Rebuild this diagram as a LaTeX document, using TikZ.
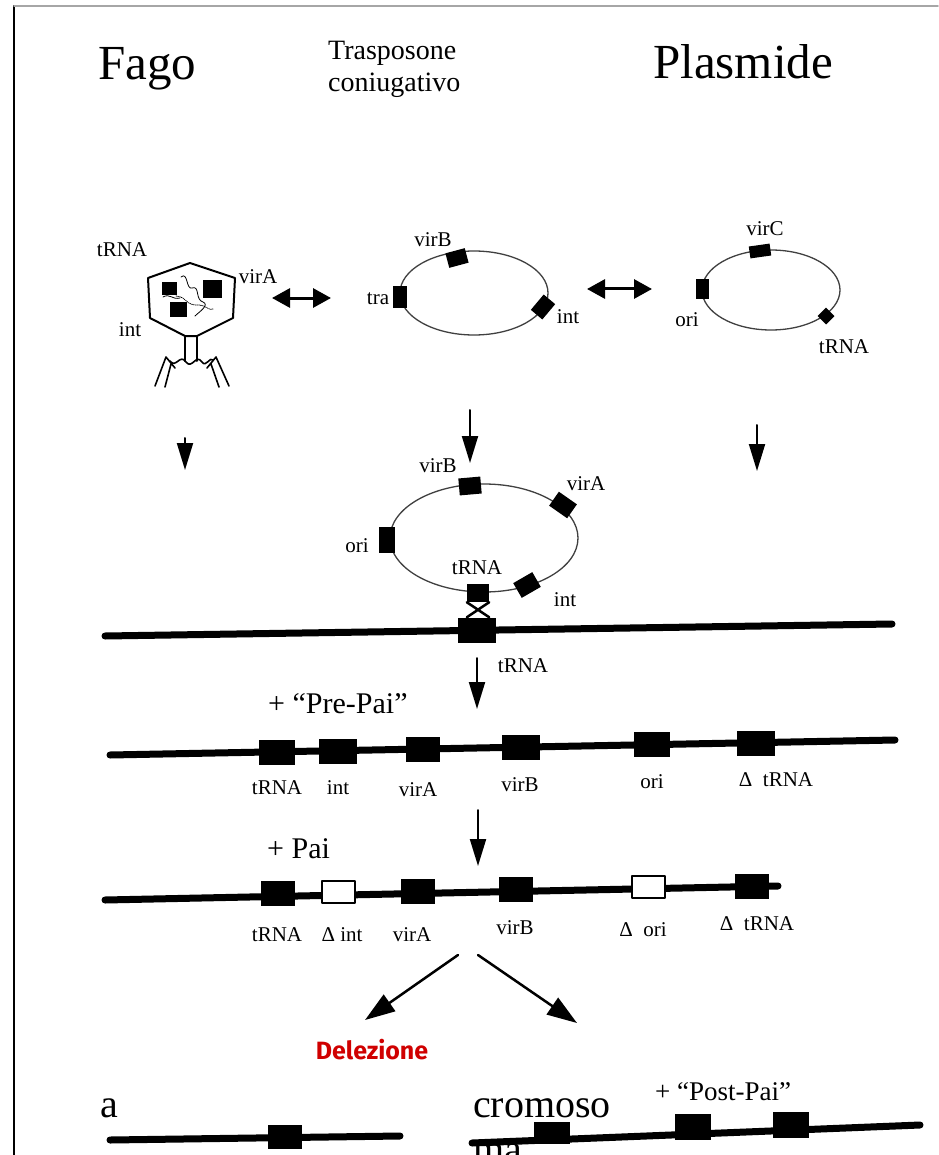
\documentclass[tikz,border=0pt]{standalone}
\usepackage{fontspec}
\setmainfont{Liberation Serif}
\newfontfamily\delfont{Fira Sans}
\usetikzlibrary{arrows.meta}
\definecolor{delred}{RGB}{208,0,0}
\tikzset{
  gene/.style={fill=black, inner sep=0, minimum width=36pt, minimum height=25pt},
  lostgene/.style={draw=black, line width=2pt, fill=white, inner sep=0, minimum width=33pt, minimum height=22pt},
  ringgene/.style={fill=black, inner sep=0, minimum width=20pt, minimum height=15pt},
  lab/.style={font=\fontsize{21}{24}\selectfont, inner sep=0},
  chrom/.style={line width=7pt},
  plasmidring/.style={line width=1.3pt, black!75},
  godown/.style={line width=2pt, -{Triangle[width=16pt,length=27pt]}},
  exchange/.style={line width=3pt, {Triangle[width=19pt,length=18pt]}-{Triangle[width=19pt,length=18pt]}}
}
\begin{document}
\begin{tikzpicture}[x=1pt, y=-1pt, line cap=round, line join=round]
	\useasboundingbox (0,0) rectangle (938,1155);
	\fill[white] (0,0) rectangle (938,1155);
	\draw[line width=2pt] (14,6)--(14,1155);
	\draw[black!35, line width=1.5pt] (14,6)--(938,6);
	% titles
	\node[anchor=base west, inner sep=0, font=\fontsize{49}{52}\selectfont] (fago) at (98,80) {Fago};
	\node[anchor=base west, inner sep=0, font=\fontsize{28}{33}\selectfont] (trasp) at (328,60) {Trasposone};
	\node[anchor=base west, inner sep=0, font=\fontsize{28}{33}\selectfont] (coniug) at (328,92) {coniugativo};
	\node[anchor=base west, inner sep=0, font=\fontsize{49}{52}\selectfont] (plasm) at (653,79) {Plasmide};
	% phage
	\draw[line width=2pt, fill=white] (190,263)--(235,278)--(233,318)--(197,336)--(185,336)--(150,318)--(148,278)--cycle;
	\draw[line width=2pt] (185,336)--(185,361) (197,336)--(197,361);
	\draw[line width=1.6pt] (170,361) .. controls (176,369) and (180,353) .. (186,362) .. controls (192,370) and (196,353) .. (202,362) .. controls (206,368) and (210,356) .. (213,360);
	\draw[line width=1.6pt] (155,386)--(166,357)--(175,368) (165,387)--(171,364) (229,386)--(216,357)--(207,368) (219,387)--(211,364);
	\draw[line width=0.8pt] (181,277) .. controls (188,271) and (186,290) .. (192,288) .. controls (200,285) and (195,300) .. (203,302) .. controls (210,305) and (199,312) .. (195,316);
	\draw[line width=0.8pt, densely dotted] (176,296) .. controls (188,297) and (185,306) .. (199,305) .. controls (206,305) and (208,311) .. (214,309);
	\draw[line width=0.8pt] (163,297) .. controls (170,293) and (172,300) .. (180,298);
	\node[fill=black, inner sep=0, minimum width=15pt, minimum height=13pt] (phtrna) at (169.5,288.5) {};
	\node[fill=black, inner sep=0, minimum width=19pt, minimum height=18pt] (phvira) at (212,289) {};
	\node[fill=black, inner sep=0, minimum width=17pt, minimum height=15pt] (phint) at (178,309) {};
	\node[lab] (lphtrna) at (122,250) {tRNA};
	\node[lab] (lphvira) at (258,277) {virA};
	\node[lab] (lphint) at (130,330) {int};
	% conjugative transposon
	\draw[plasmidring] (474,293) ellipse [x radius=74pt, y radius=42pt];
	\node[ringgene, rotate=15] (tvirb) at (457,258) {};
	\node[ringgene, minimum width=14pt, minimum height=22pt] (ttra) at (400,297) {};
	\node[ringgene, rotate=50] (tint) at (543,307) {};
	\node[lab] (ltvirb) at (433,240) {virB};
	\node[lab] (lttra) at (378,299) {tra};
	\node[lab] (ltint) at (568,317) {int};
	% plasmid
	\draw[plasmidring] (771,290) ellipse [x radius=69pt, y radius=40pt];
	\node[ringgene, rotate=8, minimum width=21pt, minimum height=12pt] (pvirc) at (760,251) {};
	\node[ringgene, minimum width=13pt, minimum height=20pt] (pori) at (702,289) {};
	\node[ringgene, rotate=45, minimum width=12pt, minimum height=12pt] (ptrna) at (826,316) {};
	\node[lab] (lpvirc) at (765,229) {virC};
	\node[lab] (lpori) at (687,320) {ori};
	\node[lab] (lptrna) at (844,347) {tRNA};
	% exchange between elements
	\coordinate (x1a) at (272,298); \coordinate (x1b) at (331,298);
	\coordinate (x2a) at (587,289); \coordinate (x2b) at (652,289);
	\draw[exchange] (x1a)--(x1b);
	\draw[exchange] (x2a)--(x2b);
	\coordinate (d1a) at (185,438); \coordinate (d1b) at (185,470);
	\coordinate (d2a) at (470,410); \coordinate (d2b) at (470,463);
	\coordinate (d3a) at (757,425); \coordinate (d3b) at (757,471);
	\draw[godown] (d1a)--(d1b);
	\draw[godown] (d2a)--(d2b);
	\draw[godown] (d3a)--(d3b);
	% integration into the chromosome
	\draw[chrom] (105,636)--(892,624);
	\draw[plasmidring] (484,538) ellipse [x radius=94pt, y radius=54pt];
	\node[ringgene, rotate=5, minimum width=22pt, minimum height=17pt] (ivirb) at (470,486) {};
	\node[ringgene, rotate=-35, minimum width=22pt, minimum height=17pt] (ivira) at (563,505) {};
	\node[ringgene, minimum width=16pt, minimum height=26pt] (iori) at (387,540) {};
	\node[ringgene, rotate=30, minimum width=22pt, minimum height=17pt] (iint) at (527,585) {};
	\node[ringgene, minimum width=22pt, minimum height=18pt] (itrna) at (478,593) {};
	\node[gene, minimum width=38pt, minimum height=25pt] (ctrna) at (477,630) {};
	\draw[line width=2.5pt] (itrna.south west)--(itrna.south east |- ctrna.north) (itrna.south east)--(itrna.south west |- ctrna.north);
	\node[lab] (livirb) at (438,466) {virB};
	\node[lab] (livira) at (586,484) {virA};
	\node[lab] (liori) at (357,546) {ori};
	\node[lab] (litrna) at (477,568) {tRNA};
	\node[lab] (liint) at (565,600) {int};
	\coordinate (d4a) at (477,658); \coordinate (d4b) at (477,709);
	\draw[godown] (d4a)--(d4b);
	\node[lab] (lctrna) at (523,666) {tRNA};
	% pre-Pai
	\node[anchor=base west, inner sep=0, font=\fontsize{30}{34}\selectfont] (prepai) at (268,713) {+ “Pre-Pai”};
	\draw[chrom] (110,755)--(895,740);
	\node[gene] (atrna) at (277,752) {};
	\node[gene, minimum width=38pt] (aint) at (338,751) {};
	\node[gene, minimum width=34pt] (avira) at (423,749) {};
	\node[gene, minimum width=38pt] (avirb) at (521,747) {};
	\node[gene] (aori) at (652,744) {};
	\node[gene, minimum width=38pt] (adtrna) at (756,743) {};
	\node[lab] (latrna) at (277,788) {tRNA};
	\node[lab] (laint) at (338,788) {int};
	\node[lab] (lavira) at (418,790) {virA};
	\node[lab] (lavirb) at (520,785) {virB};
	\node[lab] (laori) at (652,782) {ori};
	\node[lab] (ladtrna) at (776,780) {Δ\ \ tRNA};
	\coordinate (d5a) at (478,810); \coordinate (d5b) at (478,866);
	\draw[godown] (d5a)--(d5b);
	% Pai
	\node[anchor=base west, inner sep=0, font=\fontsize{30}{34}\selectfont] (pai) at (267,858) {+ Pai};
	\draw[chrom] (105,900)--(778,886);
	\node[gene, minimum width=34pt] (btrna) at (278,893) {};
	\node[lostgene] (bdint) at (338,892) {};
	\node[gene, minimum width=34pt] (bvira) at (418,891) {};
	\node[gene, minimum width=34pt] (bvirb) at (516,889) {};
	\node[lostgene] (bdori) at (648,887) {};
	\node[gene, minimum width=34pt] (bdtrna) at (752,886) {};
	\node[lab] (lbtrna) at (277,935) {tRNA};
	\node[lab] (lbdint) at (342,935) {Δ int};
	\node[lab] (lbvira) at (412,935) {virA};
	\node[lab] (lbvirb) at (515,928) {virB};
	\node[lab] (lbdori) at (643,930) {Δ\ \ ori};
	\node[lab] (lbdtrna) at (757,924) {Δ\ \ tRNA};
	\coordinate (s0l) at (458,955); \coordinate (s1) at (365,1020);
	\coordinate (s0r) at (478,955); \coordinate (s2) at (577,1023);
	\draw[godown, line width=2.5pt, -{Triangle[width=20pt,length=30pt]}] (s0l)--(s1);
	\draw[godown, line width=2.5pt, -{Triangle[width=20pt,length=30pt]}] (s0r)--(s2);
	\node[font=\delfont\bfseries\fontsize{25}{28}\selectfont, text=delred, inner sep=0] (del) at (372,1050) {Delezione};
	% outcomes
	\node[anchor=base west, inner sep=0, font=\fontsize{40}{46}\selectfont] (lefta) at (100,1117) {a};
	\draw[chrom] (110,1140)--(400,1136);
	\node[gene, minimum width=34pt, minimum height=24pt] (cleft) at (285,1137) {};
	\node[anchor=base west, inner sep=0, font=\fontsize{40}{44}\selectfont] (crom) at (473,1117) {cromoso};
	\node[anchor=base west, inner sep=0, font=\fontsize{40}{44}\selectfont] (cromb) at (473,1162) {ma};
	\node[anchor=base west, inner sep=0, font=\fontsize{27}{30}\selectfont] (postpai) at (655,1100) {+ “Post-Pai”};
	\draw[chrom] (472,1143)--(920,1125);
	\node[gene, minimum width=36pt, minimum height=22pt] (cr1) at (552,1133) {};
	\node[gene, minimum width=36pt, minimum height=26pt] (cr2) at (693,1127) {};
	\node[gene, minimum width=36pt, minimum height=26pt] (cr3) at (791,1125) {};
\end{tikzpicture}
\end{document}
